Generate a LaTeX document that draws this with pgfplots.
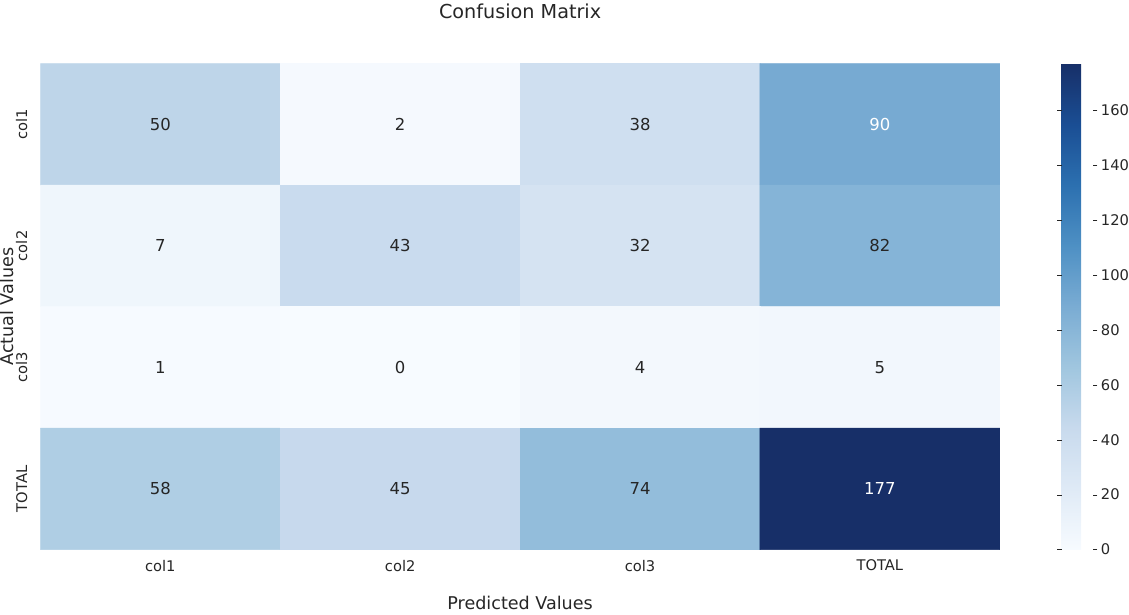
\documentclass[border=0pt]{standalone}
\usepackage{pgfplots}
\pgfplotsset{compat=1.18}
\usepackage{fontspec}
\setmainfont{DejaVu Sans}
\definecolor{txt}{HTML}{262626}
\pgfplotsset{
  colormap={sbblues}{
    rgb255(0)=(247,251,255) rgb255(1)=(223,234,246) rgb255(2)=(200,218,237)
    rgb255(3)=(160,198,223) rgb255(4)=(122,172,211) rgb255(5)=(78,144,196)
    rgb255(6)=(44,112,176) rgb255(7)=(26,78,148) rgb255(8)=(23,47,104)}
}
\begin{document}
\begin{tikzpicture}
\begin{axis}[
  scale only axis,
  width=699pt, height=354pt,
  xmin=-0.5, xmax=3.5, ymin=-0.5, ymax=3.5,
  y dir=reverse,
  axis line style={draw=none},
  major tick length=0pt,
  xtick={0,1,2,3}, ytick={0,1,2,3},
  xticklabels={col1,col2,col3,TOTAL},
  yticklabels={col1,col2,col3,TOTAL},
  ticklabel style={font=\fontsize{10.7}{12}\selectfont, text=txt},
  xticklabel style={yshift=-4pt},
  yticklabel style={rotate=90, anchor=south, yshift=6pt},
  title={Confusion Matrix},
  title style={font=\fontsize{14}{16}\selectfont, text=txt, at={(0.5,1)}, anchor=center, yshift=32.5pt, inner sep=2.5pt},
  xlabel={Predicted Values},
  xlabel style={font=\fontsize{12.8}{15}\selectfont, text=txt, at={(0.5,0)}, anchor=center, yshift=-39pt},
  ylabel={Actual Values},
  ylabel style={font=\fontsize{12.8}{15}\selectfont, text=txt, at={(0,0.5)}, anchor=center, yshift=24.5pt, inner sep=0pt},
  colormap name=sbblues,
  point meta min=0, point meta max=177,
  colorbar,
  colorbar style={
    at={(parent axis.north east)}, anchor=north west, xshift=36.5pt,
    scale only axis,
    width=23pt,
    ytick={0,20,40,60,80,100,120,140,160},
    axis line style={draw=none},
    major tick length=3pt,
    tick align=outside,
    tick style={color=txt},
    yticklabel style={font=\fontsize{10.7}{12}\selectfont, text=txt, inner xsep=0pt, xshift=2.5pt, /pgf/number format/assume math mode=true},
  },
]
\addplot[matrix plot*, mesh/cols=4, mesh/rows=4, point meta=explicit] table[x=x, y=y, meta=c] {
x y c
0 0 50
1 0 2
2 0 38
3 0 90
0 1 7
1 1 43
2 1 32
3 1 82
0 2 1
1 2 0
2 2 4
3 2 5
0 3 58
1 3 45
2 3 74
3 3 177
};
\addplot[only marks, mark=none, nodes near coords, point meta=explicit symbolic,
  nodes near coords align=center,
  every node near coord/.append style={anchor=center, font=\fontsize{12}{14}\selectfont, text=txt}]
  table[x=x, y=y, meta=c] {
x y c
0 0 50
1 0 2
2 0 38
0 1 7
1 1 43
2 1 32
3 1 82
0 2 1
1 2 0
2 2 4
3 2 5
0 3 58
1 3 45
2 3 74
};
\addplot[only marks, mark=none, nodes near coords, point meta=explicit symbolic,
  nodes near coords align=center,
  every node near coord/.append style={anchor=center, font=\fontsize{12}{14}\selectfont, text=white}]
  table[x=x, y=y, meta=c] {
x y c
3 0 90
3 3 177
};
\end{axis}
\end{tikzpicture}
\end{document}
